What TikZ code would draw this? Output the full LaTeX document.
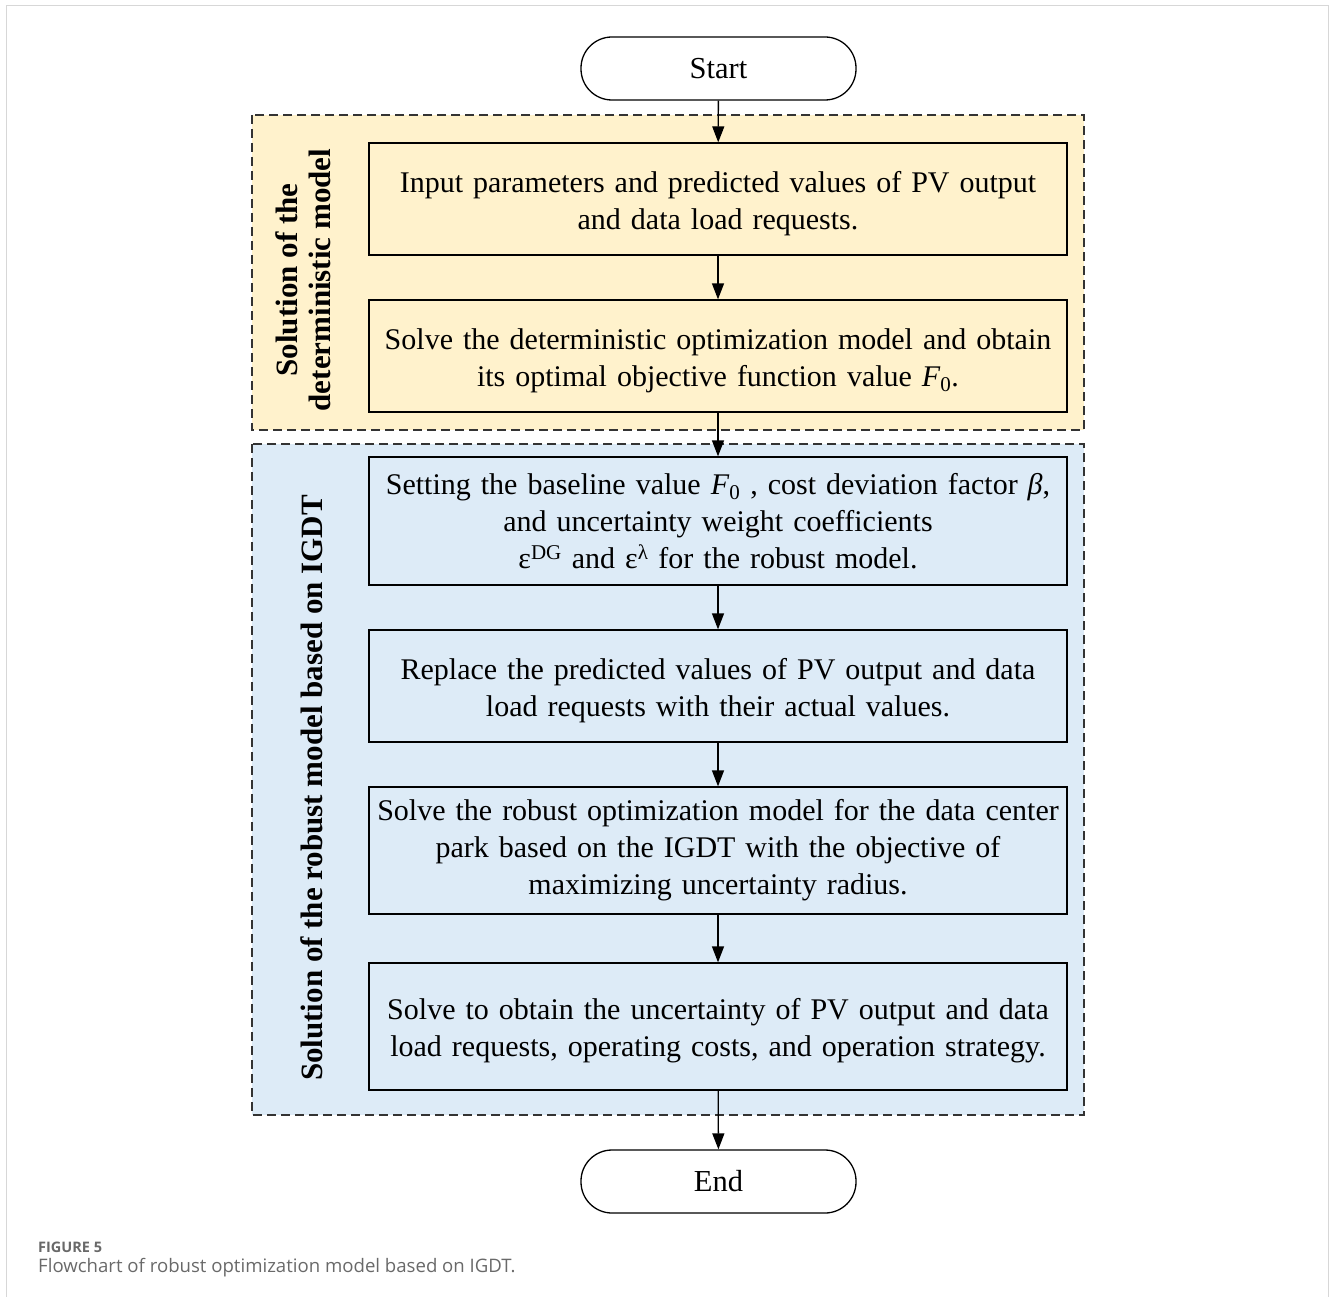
\documentclass[tikz,border=0pt]{standalone}
\usepackage{fontspec}
\setmainfont{Liberation Serif}
\newfontfamily\capfont{Open Sans}
\usetikzlibrary{arrows.meta}
\definecolor{yfill}{RGB}{255,242,204}
\definecolor{bfill}{RGB}{221,235,247}
\definecolor{framegray}{RGB}{215,215,215}
\definecolor{capgray}{RGB}{105,105,105}
\newcommand{\lowstrut}{\rule{0pt}{30pt}}
\begin{document}
\begin{tikzpicture}[x=1pt,y=-1pt,
  procbox/.style={draw=black,line width=1.3pt,minimum width=698pt,text width=694pt,align=center,
    font=\fontsize{30}{37}\selectfont,inner sep=0pt},
  term/.style={draw=black,line width=1.3pt,rounded corners=31pt,minimum width=275pt,minimum height=63pt,
    fill=white,font=\fontsize{30.5}{37}\selectfont},
  group/.style={draw=black!80,line width=1.1pt,dash pattern=on 9pt off 5pt},
  flow/.style={line width=1.3pt,-{Triangle[length=16pt,width=12pt]}},
  vlabel/.style={rotate=90,font=\bfseries\fontsize{31}{33}\selectfont,align=center}
]
\useasboundingbox (0,0) rectangle (1332,1297);
% outer frame
\draw[framegray,line width=1.5pt] (6.5,1300) -- (6.5,5.5) -- (1328.5,5.5) -- (1328.5,1300);
% groups
\path[group,fill=yfill] (252,115) rectangle (1084,430);
\path[group,fill=bfill] (252,444) rectangle (1084,1115);
\node[vlabel] (lab1) at (303,280) {Solution of the\\deterministic model};
\node[vlabel] (lab2) at (312,788) {Solution of the robust model based on IGDT};
% terminals
\node[term] (start) at (718.5,68.5) {Start};
\node[term] (end) at (718.5,1181.5) {End};
% boxes
\node[procbox,minimum height=112pt] (b1) at (718,199) {\lowstrut Input parameters and predicted values of PV output\\and data load requests.};
\node[procbox,minimum height=112pt] (b2) at (718,356) {\lowstrut Solve the deterministic optimization model and obtain\\its optimal objective function value \textit{F}\textsubscript{0}.};
\node[procbox,minimum height=128pt] (b3) at (718,521) {Setting the baseline value \textit{F}\textsubscript{0} , cost deviation factor \textit{β},\\and uncertainty weight coefficients\\ε\textsuperscript{DG} and ε\textsuperscript{λ} for the robust model.};
\node[procbox,minimum height=112pt] (b4) at (718,686) {\lowstrut Replace the predicted values of PV output and data\\load requests with their actual values.};
\node[procbox,minimum height=127pt] (b5) at (718,850.5) {Solve the robust optimization model for the data center\\park based on the IGDT with the objective of\\maximizing uncertainty radius.};
\node[procbox,minimum height=127pt] (b6) at (718,1026.5) {\lowstrut Solve to obtain the uncertainty of PV output and data\\load requests, operating costs, and operation strategy.};
% arrows
\draw[flow] (start) -- (b1);
\draw[flow] (b1) -- (b2);
\draw[flow] (b2) -- (b3);
\draw[flow] (b3) -- (b4);
\draw[flow] (b4) -- (b5);
\draw[flow] (b5) -- (b6);
\draw[flow] (b6) -- (end);
% caption
\node[anchor=base west,inner sep=0pt,text=capgray,font=\capfont\bfseries\fontsize{14.5}{16}\selectfont] (capA) at (38,1252) {FIGURE 5};
\node[anchor=base west,inner sep=0pt,text=capgray,font=\capfont\fontsize{18.6}{20}\selectfont] (capB) at (38,1272) {Flowchart of robust optimization model based on IGDT.};
\end{tikzpicture}
\end{document}
